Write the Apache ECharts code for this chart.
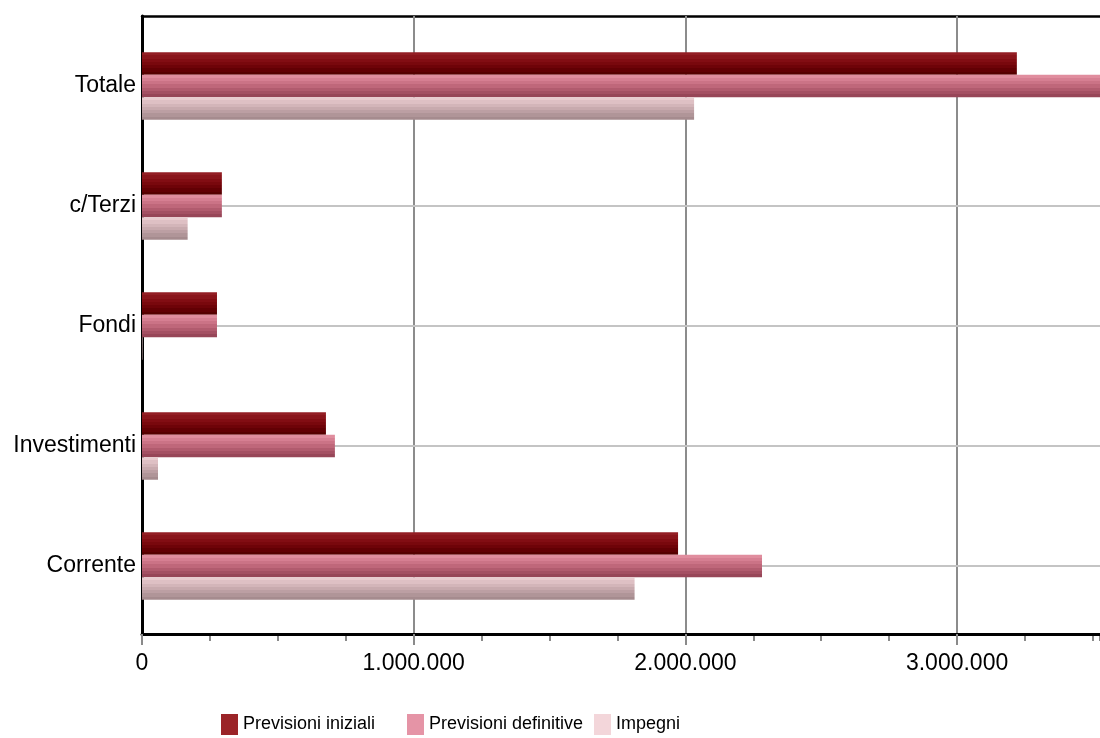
<!DOCTYPE html>
<html>
<head>
<meta charset="utf-8">
<script src="https://cdn.jsdelivr.net/npm/echarts@6/dist/echarts.min.js"></script>
<style>html,body{margin:0;padding:0;background:#fff;}#c{width:1100px;height:738px;}</style>
</head>
<body>
<div id="c"></div>
<script>
// categories listed top to bottom
var categories = ['Totale', 'c/Terzi', 'Fondi', 'Investimenti', 'Corrente'];
var seriesNames = ['Previsioni iniziali', 'Previsioni definitive', 'Impegni'];
var previsioniIniziali = [3220000, 294000, 276000, 677000, 1973000];
var previsioniDefinitive = [3562000, 294000, 276000, 710000, 2282000];
var impegni = [2032000, 168000, 2000, 59000, 1813000];
var xMin = 0, xMax = 3526000, xMajor = 1000000, xMinor = 250000;

var FONT = 'Liberation Sans, Arial, sans-serif';
function fmt(v) {
  return String(Math.round(v)).replace(/\B(?=(\d{3})+(?!\d))/g, '.');
}
function stripes(cols) {
  var stops = [];
  var n = cols.length;
  for (var i = 0; i < n; i++) {
    stops.push({offset: i / n, color: cols[i]});
    stops.push({offset: (i + 1) / n - 0.0001, color: cols[i]});
  }
  return {type: 'linear', x: 0, y: 0, x2: 0, y2: 1, colorStops: stops};
}
var darkFill = stripes(['#931e24', '#8a151b', '#820d13', '#79080d', '#6e0308', '#620004', '#560000']);
var pinkFill = stripes(['#e08d9e', '#d67f92', '#cb7386', '#bf677a', '#b15b6e', '#a45063', '#974658']);
var lightFill = stripes(['#e9cbcf', '#dec0c4', '#d3b5b9', '#c8aaae', '#bc9fa3', '#b09598', '#a58b8e']);
var legendColors = ['#9b2428', '#e594a6', '#f3d6da'];

var chart = echarts.init(document.getElementById('c'));
var barBase = {type: 'bar', xAxisIndex: 3, yAxisIndex: 1, barGap: '0%', barWidth: 22.5, z: 3};

function legendAt(i, left) {
  return {
    left: left, top: 709, itemWidth: 17, itemHeight: 21, itemGap: 0,
    icon: 'rect', selectedMode: false,
    textStyle: {fontFamily: FONT, fontSize: 18, color: '#000'},
    data: [{name: seriesNames[i], itemStyle: {color: legendColors[i]}}]
  };
}

chart.setOption({
  animation: false,
  backgroundColor: '#fff',
  grid: [
    {left: 142, right: 0, top: 16, bottom: 104},
    {left: 142, right: 0, top: 26, bottom: 112}
  ],
  legend: [legendAt(0, 216), legendAt(1, 402), legendAt(2, 589)],
  xAxis: [
    { // major: labels, long ticks, split lines
      type: 'value', gridIndex: 0, position: 'bottom', min: xMin, max: xMax, interval: xMajor,
      axisLine: {show: true, lineStyle: {color: '#000', width: 3}},
      axisTick: {show: true, length: 11, lineStyle: {color: '#8a8a8a', width: 2}},
      axisLabel: {show: true, showMaxLabel: false, margin: 18, fontFamily: FONT, fontSize: 23, color: '#000', formatter: fmt},
      splitLine: {show: true, showMaxLine: false, lineStyle: {color: '#8c8c8c', width: 2}},
      z: 1
    },
    { // minor ticks
      type: 'value', gridIndex: 0, position: 'bottom', min: xMin, max: xMax, interval: xMinor,
      axisLine: {show: false}, axisLabel: {show: false}, splitLine: {show: false},
      axisTick: {show: true, length: 7, lineStyle: {color: '#8a8a8a', width: 2}}
    },
    { // top frame line
      type: 'value', gridIndex: 0, position: 'top', min: xMin, max: xMax,
      axisLine: {show: true, lineStyle: {color: '#000', width: 2.5}},
      axisTick: {show: false}, axisLabel: {show: false}, splitLine: {show: false}
    },
    { // bars scale
      type: 'value', gridIndex: 1, min: xMin, max: xMax, show: false
    }
  ],
  yAxis: [
    {
      type: 'value', gridIndex: 0, min: 0, max: 1,
      axisLine: {show: true, lineStyle: {color: '#000', width: 3}},
      axisTick: {show: false}, axisLabel: {show: false}, splitLine: {show: false}, z: 1
    },
    {
      type: 'category', gridIndex: 1, inverse: true, data: categories,
      axisLine: {show: false}, axisTick: {show: false}, splitLine: {show: false},
      axisLabel: {margin: 6, fontFamily: FONT, fontSize: 23, color: '#000'}
    }
  ],
  series: [
    {
      type: 'line', name: '_grid', xAxisIndex: 3, yAxisIndex: 1, data: [], z: 1, silent: true,
      markLine: {
        silent: true, symbol: ['none', 'none'], z: 1, label: {show: false},
        lineStyle: {color: '#c4c4c4', width: 2, type: 'solid'},
        data: categories.map(function (c) { return {yAxis: c}; })
      }
    },
    Object.assign({}, barBase, {name: seriesNames[0], data: previsioniIniziali, itemStyle: {color: darkFill}}),
    Object.assign({}, barBase, {name: seriesNames[1], data: previsioniDefinitive, itemStyle: {color: pinkFill}}),
    Object.assign({}, barBase, {name: seriesNames[2], data: impegni, itemStyle: {color: lightFill}})
  ]
});
</script>
</body>
</html>
